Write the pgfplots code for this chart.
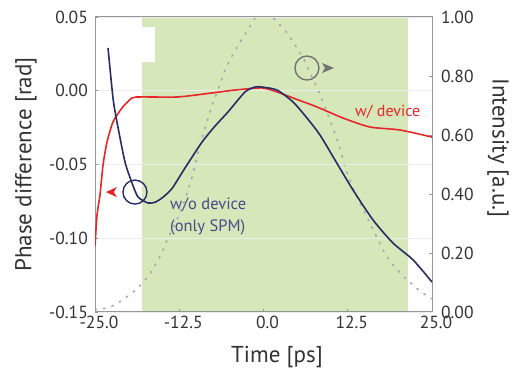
\documentclass[border=0pt]{standalone}
\usepackage{pgfplots}
\pgfplotsset{compat=1.18}
\usepackage{fontspec}
\setmainfont{PT Sans}
\definecolor{bggreen}{RGB}{214,231,185}
\definecolor{cred}{RGB}{232,38,42}
\definecolor{cnavy}{RGB}{40,44,100}
\definecolor{cslate}{RGB}{70,76,140}
\definecolor{cdot}{RGB}{165,168,178}
\definecolor{cframe}{RGB}{150,150,150}
\definecolor{ctext}{RGB}{50,50,50}
\definecolor{cgrid}{RGB}{236,236,236}
\begin{document}
\begin{tikzpicture}
\path[use as bounding box] (0,0) rectangle (516pt,374pt);
% ---------- right axis: intensity (drawn first, with green band)
\begin{axis}[
  at={(95pt,62pt)}, anchor=south west,
  width=337pt, height=295pt, scale only axis,
  xmin=-25, xmax=25, ymin=0, ymax=1,
  hide x axis,
  axis y line*=right,
  axis line style={draw=cframe, line width=1pt},
  ytick={0,0.2,0.4,0.6,0.8,1.0},
  yticklabel style={/pgf/number format/fixed, /pgf/number format/precision=2, /pgf/number format/fixed zerofill, font=\fontsize{17.5}{20}\selectfont, text=ctext, inner sep=0pt, xshift=9pt},
  /pgf/number format/assume math mode=true,
  tick style={draw=cframe, line width=0.8pt},
  major tick length=3pt,
  ylabel={Intensity [a.u.]},
  every axis y label/.style={at={(rel axis cs:1.196,0.556)}, rotate=-90, anchor=center, font=\fontsize{23}{26}\selectfont, text=ctext},
  clip=true,
]
\addplot[fill=bggreen, draw=none] coordinates {(-18.07,0) (21.44,0) (21.44,1) (-18.07,1)} -- cycle;
\addplot[fill=white, draw=none] coordinates {(-18.07,0.847) (-16.1,0.847) (-16.1,0.966) (-18.07,0.966)} -- cycle;
\addplot[cdot, line width=1.6pt, dash pattern=on 1.6pt off 7pt, line cap=round, smooth] coordinates {
(-25.0,0.008) (-23.2,0.014) (-21.6,0.031) (-19.1,0.072) (-17.6,0.108) (-16.5,0.142)
(-15.1,0.200) (-14.3,0.244) (-12.5,0.33) (-11.6,0.385) (-10.6,0.458) (-9.9,0.525)
(-9.1,0.590) (-8.4,0.644) (-7.6,0.702) (-6.75,0.753) (-5.7,0.820) (-4.5,0.875)
(-3.2,0.925) (-1.6,0.983) (0.0,1.04) (1.7,0.99) (2.9,0.963) (4.2,0.922) (5.9,0.861)
(6.9,0.810) (8.1,0.753) (9.4,0.678) (10.6,0.605) (11.65,0.53) (12.1,0.49) (13.1,0.43)
(14.3,0.37) (15.4,0.32) (16.5,0.268) (18.0,0.20) (19.2,0.16) (20.7,0.122) (22.7,0.081)
(24.4,0.052) (25,0.045)};
\end{axis}
% ---------- left axis: phase difference
\begin{axis}[
  at={(95pt,62pt)}, anchor=south west,
  width=337pt, height=295pt, scale only axis,
  xmin=-25, xmax=25, ymin=-0.15, ymax=0.05,
  axis line style={draw=cframe, line width=1pt},
  xtick={-25,-12.5,0,12.5,25},
  ytick={-0.15,-0.10,-0.05,0,0.05},
  xtick pos=bottom, ytick pos=left,
  ymajorgrids, grid style={draw=cgrid, line width=0.8pt},
  tick style={draw=cframe, line width=0.8pt},
  major tick length=3pt,
  /pgf/number format/assume math mode=true,
  xticklabel style={/pgf/number format/fixed, /pgf/number format/precision=1, /pgf/number format/fixed zerofill, font=\fontsize{17.5}{20}\selectfont, text=ctext, inner sep=0pt, yshift=-4pt, xshift=4pt},
  yticklabel style={/pgf/number format/fixed, /pgf/number format/precision=2, /pgf/number format/fixed zerofill, font=\fontsize{17.5}{20}\selectfont, text=ctext, inner sep=0pt, xshift=-7pt},
  scaled y ticks=false,
  xlabel={Time [ps]},
  ylabel={Phase difference [rad]},
  every axis x label/.style={at={(rel axis cs:0.54,-0.153)}, anchor=center, font=\fontsize{23}{26}\selectfont, text=ctext},
  every axis y label/.style={at={(rel axis cs:-0.205,0.5)}, rotate=90, anchor=center, font=\fontsize{23}{26}\selectfont, text=ctext},
  clip=true,
]
\addplot[cred, line width=1.6pt, smooth, tension=0.4] coordinates {
(-25.0,-0.1054) (-24.70,-0.0843) (-24.26,-0.0707) (-23.81,-0.0504) (-23.22,-0.0348)
(-22.33,-0.0212) (-21.0,-0.0117) (-19.51,-0.0049) (-18.0,-0.0042) (-12.69,-0.0042)
(-7.64,-0.0015) (-4.23,0.0005) (-0.22,0.0019) (2.0,-0.0008) (4.38,-0.0049)
(7.94,-0.011) (11.8,-0.0185) (15.8,-0.0246) (20.25,-0.0266) (25,-0.0314)};
\addplot[cnavy, line width=1.6pt, smooth, tension=0.4] coordinates {
(-23.07,0.029) (-22.33,-0.0049) (-21.74,-0.0212) (-20.55,-0.0483) (-19.51,-0.0625)
(-18.62,-0.0720) (-17.14,-0.0761) (-16.10,-0.0756) (-15.0,-0.0725) (-13.58,-0.0663)
(-11.65,-0.0524) (-9.12,-0.0348) (-7.2,-0.0240) (-5.27,-0.0144) (-2.74,-0.0008)
(-1.26,0.0025) (-0.22,0.0025) (2.0,0.0005) (4.38,-0.0076) (6.45,-0.0185)
(8.38,-0.0300) (10.6,-0.0469) (13.28,-0.0673) (16.25,-0.0876) (19.2,-0.1032)
(22.2,-0.1147) (25,-0.1297)};
% annotations
\draw[cnavy, line width=1.4pt] (axis cs:-19.07,-0.0687) circle[radius=12pt];
\fill[cred] (axis cs:-22.5,-0.0687) ++(-6pt,0pt) -- ++(11pt,5pt) -- ++(-3pt,-5pt) -- ++(3pt,-5pt) -- cycle;
\draw[gray!90!black, line width=1.4pt] (axis cs:6.45,0.0154) circle[radius=12pt];
\fill[gray!90!black] (axis cs:8.68,0.0154) ++(12pt,0pt) -- ++(-12pt,5pt) -- ++(3pt,-5pt) -- ++(-3pt,-5pt) -- cycle;
\node[anchor=west, align=left, text=cslate, font=\fontsize{16.5}{22}\selectfont, inner sep=0pt] at (axis cs:-13.87,-0.0849) {w/o device\\(only SPM)};
\node[anchor=west, text=cred, font=\fontsize{16}{18}\selectfont, inner sep=0pt] at (axis cs:13.58,-0.0144) {w/ device};
\end{axis}
\end{tikzpicture}
\end{document}
